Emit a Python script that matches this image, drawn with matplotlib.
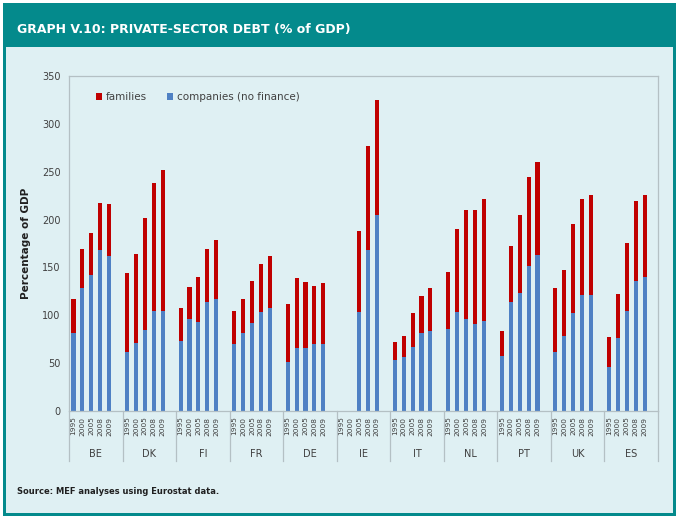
import numpy as np
import matplotlib
matplotlib.use("Agg")
import matplotlib.pyplot as plt
from matplotlib.patches import Rectangle
from matplotlib.transforms import blended_transform_factory

countries = ["BE", "DK", "FI", "FR", "DE", "IE", "IT", "NL", "PT", "UK", "ES"]
years = ["1995", "2000", "2005", "2008", "2009"]

nan = np.nan
companies = [
    [81, 128, 142, 168, 162],
    [62, 71, 85, 104, 105],
    [73, 96, 93, 114, 117],
    [70, 81, 92, 103, 108],
    [51, 66, 66, 70, 70],
    [nan, nan, 103, 168, 205],
    [53, 56, 67, 81, 84],
    [86, 103, 96, 91, 94],
    [57, 114, 123, 152, 163],
    [62, 78, 102, 121, 121],
    [46, 76, 105, 136, 140],
]
families = [
    [36, 41, 44, 49, 54],
    [82, 93, 117, 134, 147],
    [35, 34, 47, 55, 62],
    [35, 36, 44, 51, 54],
    [61, 73, 69, 61, 64],
    [nan, nan, 85, 109, 120],
    [19, 22, 35, 39, 44],
    [59, 87, 114, 119, 128],
    [27, 58, 82, 92, 97],
    [66, 69, 93, 101, 105],
    [31, 46, 71, 83, 86],
]

teal = "#048a8c"
panel = "#dff0f3"
red = "#c00000"
blue = "#4f81c4"
grey_txt = "#404040"
line_col = "#b4c0c4"

fig = plt.figure(figsize=(6.8, 5.19), dpi=100)
W, H = 680, 519

# frame: teal box with light panel inside (background axes behind everything)
bg = fig.add_axes([0, 0, 1, 1], zorder=-10)
bg.set_xlim(0, W)
bg.set_ylim(H, 0)
bg.axis("off")
bg.add_patch(Rectangle((3, 3), 673, 513, facecolor=teal, edgecolor="none"))
bg.add_patch(Rectangle((6, 47), 667, 466, facecolor=panel, edgecolor="none"))
bg.text(17, 29, "GRAPH V.10: PRIVATE-SECTOR DEBT (% of GDP)", color="white",
        fontsize=9, fontweight="bold", va="center", ha="left")
bg.text(17, 492, "Source: MEF analyses using Eurostat data.", color="#202020",
        fontsize=6, fontweight="bold", va="center", ha="left")

ax = fig.add_axes([69 / W, 1 - 411 / H, (658 - 69) / W, (411 - 76) / H], zorder=1)
ax.set_facecolor(panel)

comp = np.array(companies, dtype=float)
fam = np.array(families, dtype=float)
x = np.array([[g * 6 + i + 0.5 for i in range(5)] for g in range(len(countries))])

ax.bar(x.ravel(), comp.ravel(), width=0.46, color=blue, label="companies (no finance)", zorder=2)
ax.bar(x.ravel(), fam.ravel(), width=0.46, bottom=comp.ravel(), color=red, label="families", zorder=2)

ax.set_xlim(0, 6 * len(countries))
ax.set_ylim(0, 350)
ax.set_yticks(range(0, 351, 50))
ax.tick_params(axis="y", length=0, pad=6, labelsize=7, labelcolor=grey_txt)
ax.set_xticks(x.ravel())
ax.set_xticklabels(years * len(countries), rotation=90, fontsize=5.3, color=grey_txt)
ax.tick_params(axis="x", length=0, pad=4)
ax.set_ylabel("Percentage of GDP", fontsize=7.5, fontweight="bold", color="#202020", labelpad=8)

for s in ax.spines.values():
    s.set_color(line_col)
    s.set_linewidth(0.9)

trans = blended_transform_factory(ax.transData, ax.transAxes)
for g in range(len(countries) + 1):
    ax.plot([g * 6, g * 6], [0, -0.15], color=line_col, lw=0.9, transform=trans, clip_on=False)
for g, c in enumerate(countries):
    ax.text(g * 6 + 3, -0.128, c, transform=trans, ha="center", va="center",
            fontsize=7, color=grey_txt)

handles, labels = ax.get_legend_handles_labels()
ax.legend(handles[::-1], labels[::-1], loc="upper left", bbox_to_anchor=(0.03, 0.98), ncol=2,
          frameon=False, fontsize=7.5, handlelength=0.55, handleheight=0.55, handletextpad=0.4,
          columnspacing=1.9, labelcolor=grey_txt)

fig.savefig("out.png", dpi=100, facecolor="white")
